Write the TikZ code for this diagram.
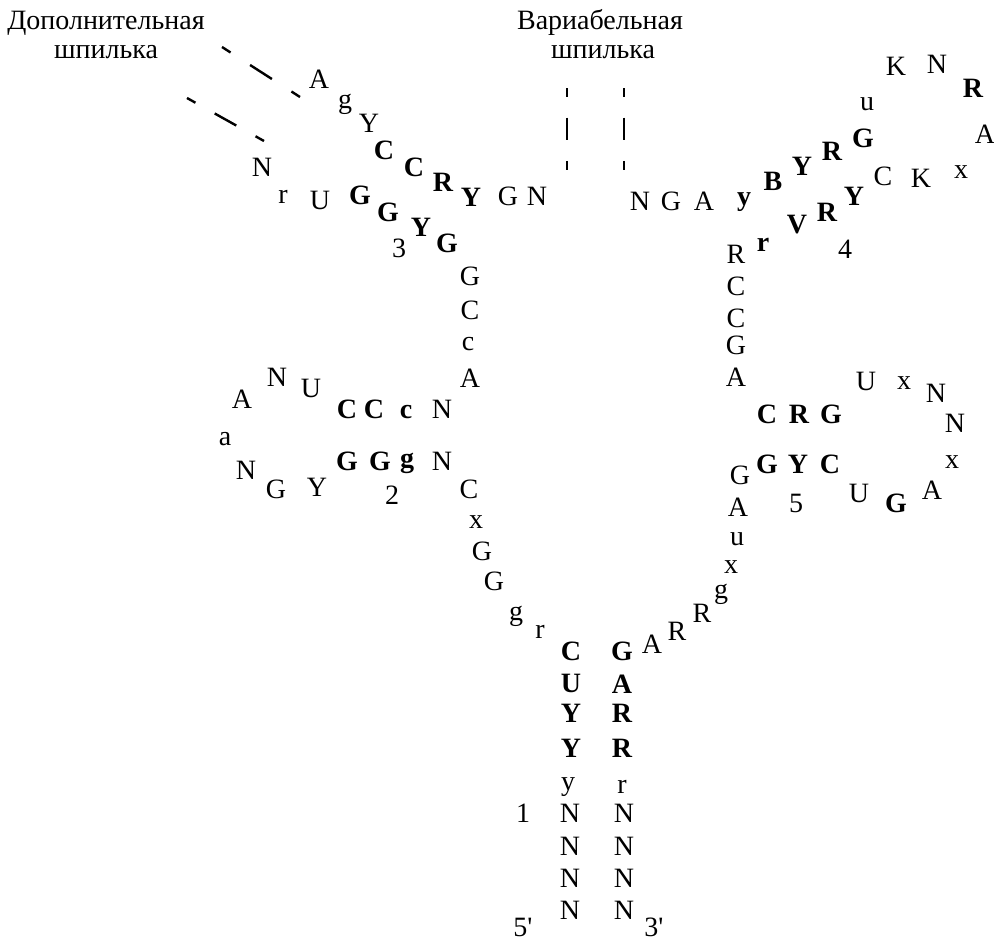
\documentclass[tikz,border=0pt]{standalone}
\usepackage{fontspec}
\setmainfont{Liberation Serif}
\usetikzlibrary{calc}
\newcommand\ntfont{\fontsize{28}{32}\selectfont}
\begin{document}
\begin{tikzpicture}[x=1pt,y=-1pt,
  nt/.style={anchor=base,inner sep=0pt,font=\ntfont},
  bt/.style={anchor=base,inner sep=0pt,font=\ntfont\bfseries},
  lbl/.style={anchor=base,inner sep=0pt,font=\ntfont},
  dl/.style={line width=2.4pt}]
\useasboundingbox (0,0) rectangle (994,945);
% labels
\node[lbl] (l1a) at (106,29) {Дополнительная};
\node[lbl] (l1b) at (106,58) {шпилька};
\node[lbl] (l2a) at (600,29) {Вариабельная};
\node[lbl] (l2b) at (603,58) {шпилька};
% normal letters
\foreach \n/\x/\y/\t in {
 a1/319/88/A, a2/345/108/g, a3/369/132/Y, a8/508/205/G, a9/537/205/N,
 b1/262/176/N, b2/283/203/r, b3/320/209/U, n3/399/257/3,
 c1/470/285/G, c2/470/319/C, c3/468/350/c, c4/470/387/A,
 d4/442/418/N, e4/442/470/N,
 f1/311/397/U, f2/277/386/N, f3/242/408/A, f4/225/445/a, f5/246/479/N, f6/276/498/G, f7/317/496/Y, n2/392/504/2,
 g1/469/498/C, g2/476/528/x, g3/482/560/G, g4/494/590/G, g5/516/620/g, g6/540/638/r,
 s5/568/790/y, s6/570/822/N, s7/570/855/N, s8/570/887/N, s9/570/919/N, n1/523/822/1,
 t5/622/793/r, t6/624/822/N, t7/624/855/N, t8/624/887/N, t9/624/919/N,
 u1/652/653/A, u2/677/640/R, u3/702/622/R, u4/721/598/g, u5/731/573/x, u6/737/545/u, u7/738/516/A, u8/740/484/G,
 n5/796/512/5,
 h1/866/390/U, h2/904/389/x, h3/936/402/N, h4/955/432/N, h5/952/468/x, h6/932/499/A, h8/859/502/U,
 v1/736/263/R, v2/736/295/C, v3/736/327/C, v4/736/354/G, v5/736/386/A,
 w1/640/210/N, w2/671/210/G, w3/704/210/A,
 k1/867/110/u, k2/896/75/K, k3/937/73/N, k5/985/143/A, k6/961/178/x, k7/921/187/K, k8/883/185/C, n4/845/258/4}
 \node[nt] (\n) at (\x,\y) {\t};
\node[nt] (p5) at (523,936) {5\textquotesingle};
\node[nt] (p3) at (654,936) {3\textquotesingle};
% bold letters
\foreach \n/\x/\y/\t in {
 a4/384/159/C, a5/414/176/C, a6/443/191/R, a7/471/206/Y,
 b4/360/204/G, b5/388/221/G, b6/421/236/Y, b7/447/252/G,
 d1/347/418/C, d2/374/418/C, d3/406/418/c,
 e1/347/470/G, e2/380/470/G, e3/407/467/g,
 s1/571/660/C, s2/571/692/U, s3/571/722/Y, s4/571/757/Y,
 t1/622/660/G, t2/622/693/A, t3/622/722/R, t4/622/757/R,
 i1/767/423/C, i2/799/423/R, i3/831/423/G,
 j1/767/473/G, j2/798/473/Y, j3/830/473/C,
 h7/896/512/G,
 w4/744/205/y, w5/773/190/B, w6/802/175/Y, w7/832/160/R, w8/863/147/G,
 k4/973/97/R,
 m1/854/205/Y, m2/827/221/R, m3/797/233/V, m4/763/251/r}
 \node[bt] (\n) at (\x,\y) {\t};
% dashed markers
\coordinate (da1) at (222,47); \coordinate (da2) at (300,97);
\coordinate (db1) at (187,98); \coordinate (db2) at (264,141);
\coordinate (dc1) at (567,88); \coordinate (dc2) at (567,170);
\coordinate (dd1) at (624,88); \coordinate (dd2) at (624,170);
\foreach \p/\q in {da1/da2, db1/db2, dc1/dc2, dd1/dd2}
 \draw[dl] (\p) -- ($(\p)!0.11!(\q)$) ($(\p)!0.36!(\q)$) -- ($(\p)!0.64!(\q)$) ($(\p)!0.89!(\q)$) -- (\q);
\end{tikzpicture}
\end{document}
